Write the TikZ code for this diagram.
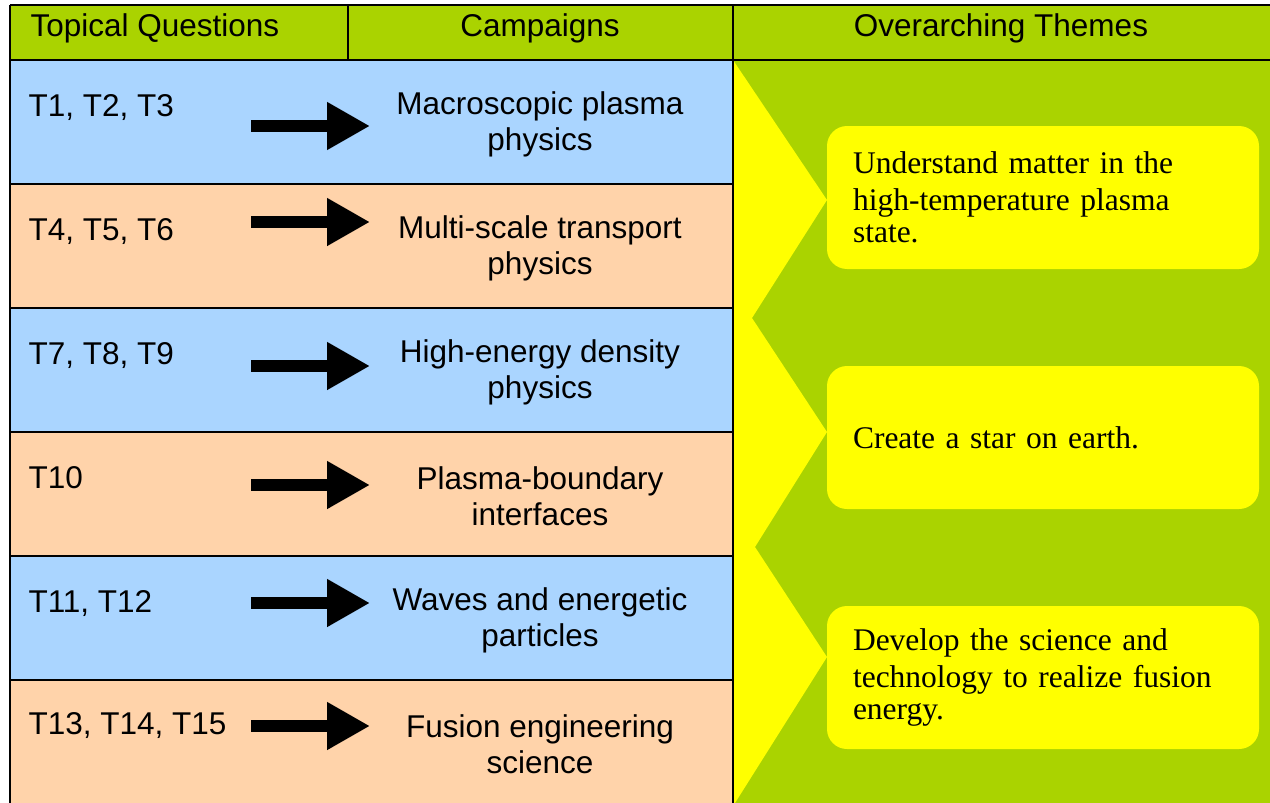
\documentclass[tikz,border=0pt]{standalone}
\usepackage{fontspec}
\setmainfont{Liberation Serif}
\setsansfont{Liberation Sans}
\usetikzlibrary{arrows.meta}
\definecolor{hdrgreen}{RGB}{170,211,0}
\definecolor{rowblue}{RGB}{170,213,255}
\definecolor{rowpeach}{RGB}{255,211,170}
\definecolor{themeyellow}{RGB}{255,255,0}
\tikzset{
  >={Triangle[length=43pt,width=45pt]},
  tablefont/.style={font=\sffamily\fontsize{31.5}{36}\selectfont},
  colhead/.style={tablefont, anchor=base},
  question/.style={tablefont, anchor=base west},
  campaign/.style={tablefont, align=center, anchor=center},
  theme/.style={
    rectangle,
    rounded corners=20pt,
    fill=themeyellow,
    minimum width=432pt,
    minimum height=143pt,
    text width=380pt,
    inner xsep=26pt,
    align=left,
    font=\rmfamily\fontsize{31.5}{32}\selectfont},
  bigarrow/.style={draw, line width=12pt, ->},
  rule/.style={draw=black, line width=2pt},
}

\begin{document}
\begin{tikzpicture}
  [x=1pt, y=-1pt]
  \useasboundingbox (0,0) rectangle (1270,803);
  % header band and theme column background
  \fill[hdrgreen] (10,5) rectangle (1270,60);
  \fill[hdrgreen] (733,60) rectangle (1270,803);
  % row stripes
  \fill[rowblue]  (10,60)  rectangle (733,184);
  \fill[rowpeach] (10,184) rectangle (733,308);
  \fill[rowblue]  (10,308) rectangle (733,432);
  \fill[rowpeach] (10,432) rectangle (733,556);
  \fill[rowblue]  (10,556) rectangle (733,680);
  \fill[rowpeach] (10,680) rectangle (733,803);
  % yellow wedges feeding the themes
  \fill[themeyellow] (733,60) -- (827,200) -- (752,318) -- (827,432)
    -- (755,547) -- (827,657) -- (735,803) -- (733,803) -- cycle;

  % table rules
  \draw[rule] (10,5) -- (1270,5);
  \draw[rule] (10,60) -- (1270,60);
  \draw[rule] (10,5) -- (10,803);
  \draw[rule] (348,5) -- (348,60);
  \draw[rule] (733,5) -- (733,803);
  \draw[rule] (10,184) -- (733,184);
  \draw[rule] (10,308) -- (733,308);
  \draw[rule] (10,432) -- (733,432);
  \draw[rule] (10,556) -- (733,556);
  \draw[rule] (10,680) -- (733,680);

  % column heads
  \node[question] (hquest) at (27,36) {Topical Questions};
  \node[colhead] (hcamp) at (540,36) {Campaigns};
  \node[colhead] (htheme) at (1001,36) {Overarching Themes};

  % questions
  \node[question] (q1) at (25,116) {T1, T2, T3};
  \node[question] (q2) at (25,240) {T4, T5, T6};
  \node[question] (q3) at (25,364) {T7, T8, T9};
  \node[question] (q4) at (25,488) {T10};
  \node[question] (q5) at (25,612) {T11, T12};
  \node[question] (q6) at (25,734) {T13, T14, T15};

  % campaigns
  \node[campaign] (c1) at (540,124) {Macroscopic plasma\\physics};
  \node[campaign] (c2) at (540,248) {Multi-scale transport\\physics};
  \node[campaign] (c3) at (540,372) {High-energy density\\physics};
  \node[campaign] (c4) at (540,496) {Plasma-boundary\\interfaces};
  \node[campaign] (c5) at (540,620) {Waves and energetic\\particles};
  \node[campaign] (c6) at (540,744) {Fusion engineering\\science};

  % arrow ends
  \coordinate (a1) at (251,126); \coordinate (b1) at (370,126);
  \coordinate (a2) at (251,222); \coordinate (b2) at (370,222);
  \coordinate (a3) at (251,366); \coordinate (b3) at (370,366);
  \coordinate (a4) at (251,485); \coordinate (b4) at (370,485);
  \coordinate (a5) at (251,603); \coordinate (b5) at (370,603);
  \coordinate (a6) at (251,726); \coordinate (b6) at (370,726);
  \draw[bigarrow] (a1) -- (b1);
  \draw[bigarrow] (a2) -- (b2);
  \draw[bigarrow] (a3) -- (b3);
  \draw[bigarrow] (a4) -- (b4);
  \draw[bigarrow] (a5) -- (b5);
  \draw[bigarrow] (a6) -- (b6);

  % themes
  \node[theme] (t1) at (1043,197.5)
    {Understand matter in the\\[5pt]high-temperature plasma\\state.};
  \node[theme] (t2) at (1043,437.5) {Create a star on earth.};
  \node[theme] (t3) at (1043,677.5)
    {Develop the science and\\[5pt]technology to realize fusion\\energy.};
\end{tikzpicture}
\end{document}
